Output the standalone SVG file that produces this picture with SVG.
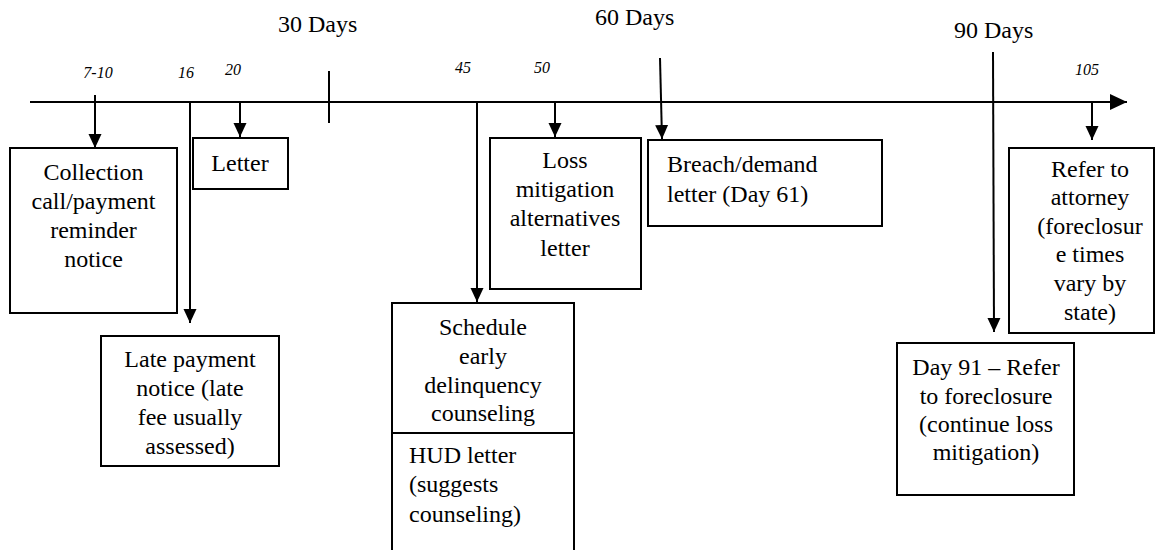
<svg xmlns="http://www.w3.org/2000/svg" width="1156" height="550" viewBox="0 0 1156 550" font-family="'Liberation Serif', 'Times New Roman', serif">
<style>
.t{font-size:24px;font-family:'Liberation Serif','Times New Roman',serif}
.c{text-anchor:middle}
.n{font-size:16px;font-style:italic;text-anchor:middle;font-family:'Liberation Serif','Times New Roman',serif}
.box{fill:#fff;stroke:#000;stroke-width:2}
.ln{stroke:#000;stroke-width:2;fill:none}
</style>
<defs>
<marker id="ah" markerUnits="userSpaceOnUse" markerWidth="14" markerHeight="14" refX="14" refY="6.5" orient="auto" viewBox="0 0 14 13">
<path d="M0,0 L14,6.5 L0,13 z" fill="#000"/>
</marker>
<marker id="ahb" markerUnits="userSpaceOnUse" markerWidth="17" markerHeight="16" refX="17" refY="8" orient="auto" viewBox="0 0 17 16">
<path d="M0,0 L17,8 L0,16 z" fill="#000"/>
</marker>
</defs>
<g id="labels">
<text class="t" x="278" y="32">30 Days</text>
<text class="t" x="595" y="25">60 Days</text>
<text class="t" x="954" y="38">90 Days</text>
<text class="n" x="98" y="78">7-10</text>
<text class="n" x="186" y="78">16</text>
<text class="n" x="233" y="75">20</text>
<text class="n" x="463" y="73">45</text>
<text class="n" x="542" y="73">50</text>
<text class="n" x="1087" y="75">105</text>
</g>
<g id="connectors">
<line class="ln" x1="30" y1="102" x2="1127" y2="102" stroke-width="2.5" marker-end="url(#ahb)"/>
<line class="ln" x1="329" y1="71" x2="329" y2="123"/>
<line class="ln" x1="95" y1="95" x2="95" y2="148" marker-end="url(#ah)"/>
<line class="ln" x1="190" y1="102" x2="190" y2="323" marker-end="url(#ah)"/>
<line class="ln" x1="240" y1="102" x2="240" y2="137" marker-end="url(#ah)"/>
<line class="ln" x1="477" y1="102" x2="477" y2="302" marker-end="url(#ah)"/>
<line class="ln" x1="555" y1="102" x2="555" y2="137" marker-end="url(#ah)"/>
<line class="ln" x1="660" y1="58" x2="662" y2="139" marker-end="url(#ah)"/>
<line class="ln" x1="993" y1="52" x2="994" y2="332" marker-end="url(#ah)"/>
<line class="ln" x1="1092" y1="102" x2="1092" y2="140" marker-end="url(#ah)"/>
</g>
<g id="n-collection">
<rect class="box" x="10" y="148" width="167" height="165"/>
<text class="t c" x="93.5" y="180">Collection</text>
<text class="t c" x="93.5" y="209">call/payment</text>
<text class="t c" x="93.5" y="238">reminder</text>
<text class="t c" x="93.5" y="267">notice</text>
</g>
<g id="n-late">
<rect class="box" x="101" y="336" width="178" height="130"/>
<text class="t c" x="190" y="367">Late payment</text>
<text class="t c" x="190" y="396">notice (late</text>
<text class="t c" x="190" y="425">fee usually</text>
<text class="t c" x="190" y="454">assessed)</text>
</g>
<g id="n-letter">
<rect class="box" x="193" y="138" width="95" height="51"/>
<text class="t c" x="240" y="171">Letter</text>
</g>
<g id="n-schedule">
<rect class="box" x="392" y="303" width="182" height="130"/>
<text class="t c" x="483" y="335">Schedule</text>
<text class="t c" x="483" y="364">early</text>
<text class="t c" x="483" y="393">delinquency</text>
<text class="t c" x="483" y="421">counseling</text>
</g>
<g id="n-hud">
<rect class="box" x="392" y="433" width="182" height="130"/>
<text class="t" x="409" y="463">HUD letter</text>
<text class="t" x="409" y="492">(suggests</text>
<text class="t" x="409" y="522">counseling)</text>
</g>
<g id="n-loss">
<rect class="box" x="490" y="138" width="151" height="151"/>
<text class="t c" x="565" y="168">Loss</text>
<text class="t c" x="565" y="197">mitigation</text>
<text class="t c" x="565" y="226">alternatives</text>
<text class="t c" x="565" y="256">letter</text>
</g>
<g id="n-breach">
<rect class="box" x="648" y="140" width="234" height="86"/>
<text class="t" x="667" y="172">Breach/demand</text>
<text class="t" x="667" y="202">letter (Day 61)</text>
</g>
<g id="n-day91">
<rect class="box" x="897" y="343" width="177" height="152"/>
<text class="t c" x="986" y="375">Day 91 – Refer</text>
<text class="t c" x="986" y="404">to foreclosure</text>
<text class="t c" x="986" y="432">(continue loss</text>
<text class="t c" x="986" y="460">mitigation)</text>
</g>
<g id="n-attorney">
<rect class="box" x="1009" y="148" width="145" height="185"/>
<text class="t c" x="1090" y="177">Refer to</text>
<text class="t c" x="1090" y="205">attorney</text>
<text class="t c" x="1090" y="234">(foreclosur</text>
<text class="t c" x="1090" y="262">e times</text>
<text class="t c" x="1090" y="291">vary by</text>
<text class="t c" x="1090" y="320">state)</text>
</g>
</svg>
